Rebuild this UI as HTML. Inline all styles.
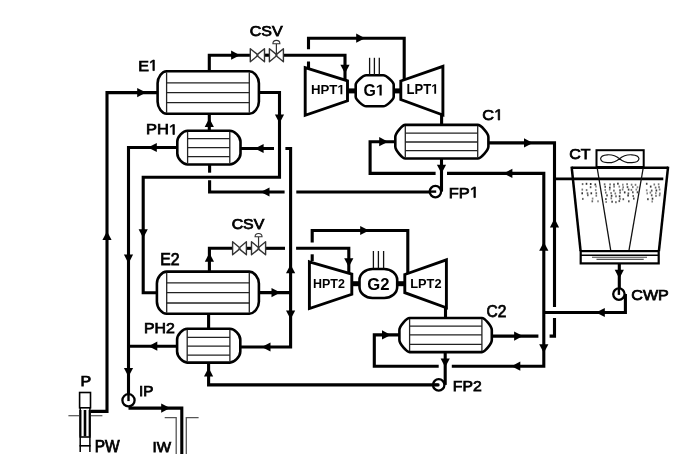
<!DOCTYPE html>
<html><head><meta charset="utf-8"><style>
html,body{margin:0;padding:0;background:#fff;overflow:hidden}
svg{display:block;will-change:transform}
text{font-family:"Liberation Sans",sans-serif;fill:#000;font-kerning:none}
</style></head><body>
<svg width="699" height="461" viewBox="0 0 699 461">
<rect width="699" height="461" fill="#fff"/>
<path d="M90.5,411.4 H107 V92.6 H157.6" fill="none" stroke="#000" stroke-width="3.1" stroke-linejoin="miter" stroke-linecap="butt"/>
<polygon points="107.0,231.2 102.4,240.0 111.6,240.0" fill="#000"/>
<polygon points="146.0,92.6 137.2,88.0 137.2,97.2" fill="#000"/>
<path d="M166.6,71.3 H249.3 C254.10,71.3 258.9,77.30 258.9,83.30 V101.80 C258.9,107.80 254.10,113.8 249.3,113.8 H166.6 C162.10,113.8 157.6,107.80 157.6,101.80 V83.30 C157.6,77.30 162.10,71.3 166.6,71.3 Z" fill="#fff" stroke="#000" stroke-width="2.6"/>
<line x1="166.6" y1="72.3" x2="166.6" y2="112.8" stroke="#222" stroke-width="1.3"/>
<line x1="249.3" y1="72.3" x2="249.3" y2="112.8" stroke="#222" stroke-width="1.3"/>
<line x1="166.6" y1="82.8" x2="249.3" y2="82.8" stroke="#222" stroke-width="1.3"/>
<line x1="166.6" y1="92.7" x2="249.3" y2="92.7" stroke="#222" stroke-width="1.3"/>
<line x1="166.6" y1="102.6" x2="249.3" y2="102.6" stroke="#222" stroke-width="1.3"/>
<path d="M209.3,71 V55.2 H250.3" fill="none" stroke="#000" stroke-width="3.1" stroke-linejoin="miter" stroke-linecap="butt"/>
<polygon points="239.9,55.2 231.1,50.6 231.1,59.8" fill="#000"/>
<path d="M264.5,55.2 H269.4" fill="none" stroke="#000" stroke-width="3.1" stroke-linejoin="miter" stroke-linecap="butt"/>
<path d="M283.4,55.2 H345 V80" fill="none" stroke="#000" stroke-width="3.1" stroke-linejoin="miter" stroke-linecap="butt"/>
<polygon points="345.0,73.5 340.4,64.7 349.6,64.7" fill="#000"/>
<polygon points="250.3,48.7 257.0,54.1 257.0,56.300000000000004 250.3,61.7" fill="#fff" stroke="#333" stroke-width="1.4" stroke-linejoin="round"/>
<polygon points="264.5,48.7 257.79999999999995,54.1 257.79999999999995,56.300000000000004 264.5,61.7" fill="#fff" stroke="#333" stroke-width="1.4" stroke-linejoin="round"/>
<polygon points="269.4,48.7 276.0,54.1 276.0,56.300000000000004 269.4,61.7" fill="#fff" stroke="#333" stroke-width="1.4" stroke-linejoin="round"/>
<polygon points="283.4,48.7 276.79999999999995,54.1 276.79999999999995,56.300000000000004 283.4,61.7" fill="#fff" stroke="#333" stroke-width="1.4" stroke-linejoin="round"/>
<line x1="276.4" y1="55.2" x2="276.4" y2="43.7" stroke="#333" stroke-width="1.2"/>
<path d="M272.9,43.7 A3.5,3.3 0 0 1 279.9,43.7 Z" fill="#fff" stroke="#333" stroke-width="1.1"/>
<path d="M308.5,49.2 V38.2 H404.2 V81" fill="none" stroke="#000" stroke-width="3.1" stroke-linejoin="miter" stroke-linecap="butt"/>
<path d="M308.5,61.5 V69" fill="none" stroke="#000" stroke-width="3.1" stroke-linejoin="miter" stroke-linecap="butt"/>
<polygon points="365.0,38.2 356.2,33.6 356.2,42.8" fill="#000"/>
<polygon points="305.2,67.6 347.5,80.8 347.5,100.8 305.2,115.3" fill="#fff" stroke="#000" stroke-width="2.9" stroke-linejoin="miter"/>
<polygon points="400.8,81 442.9,66.3 442.9,115 400.8,99.6" fill="#fff" stroke="#000" stroke-width="2.9" stroke-linejoin="miter"/>
<rect x="347" y="88.4" width="8.5" height="5" fill="#000"/>
<rect x="393.8" y="88.4" width="7.6" height="5" fill="#000"/>
<path d="M366.2,75.3 H383.2 C386.35,75.3 393.7,81.95 393.7,84.80 V96.80 C393.7,99.65 386.35,106.3 383.2,106.3 H366.2 C363.05,106.3 355.7,99.65 355.7,96.80 V84.80 C355.7,81.95 363.05,75.3 366.2,75.3 Z" fill="#fff" stroke="#000" stroke-width="2.6"/>
<line x1="369.6" y1="57.8" x2="369.6" y2="75" stroke="#111" stroke-width="1.3"/>
<line x1="374.4" y1="57.8" x2="374.4" y2="75" stroke="#111" stroke-width="1.3"/>
<line x1="379.3" y1="57.8" x2="379.3" y2="75" stroke="#111" stroke-width="1.3"/>
<path d="M441.6,114 V125" fill="none" stroke="#000" stroke-width="3.1" stroke-linejoin="miter" stroke-linecap="butt"/>
<path d="M405.3,124.9 H477.7 C480.91,124.9 488.4,133.30 488.4,136.90 V146.50 C488.4,150.10 480.91,158.5 477.7,158.5 H405.3 C402.30,158.5 395.3,150.10 395.3,146.50 V136.90 C395.3,133.30 402.30,124.9 405.3,124.9 Z" fill="#fff" stroke="#000" stroke-width="2.6"/>
<line x1="405.3" y1="125.9" x2="405.3" y2="157.5" stroke="#222" stroke-width="1.3"/>
<line x1="477.7" y1="125.9" x2="477.7" y2="157.5" stroke="#222" stroke-width="1.3"/>
<line x1="405.3" y1="133.1" x2="477.7" y2="133.1" stroke="#222" stroke-width="1.3"/>
<line x1="405.3" y1="142" x2="477.7" y2="142" stroke="#222" stroke-width="1.3"/>
<line x1="405.3" y1="150.7" x2="477.7" y2="150.7" stroke="#222" stroke-width="1.3"/>
<path d="M258.9,92.5 H279.5 V177.3 H143.2 V292.7 H156.9" fill="none" stroke="#000" stroke-width="3.1" stroke-linejoin="miter" stroke-linecap="butt"/>
<polygon points="279.5,123.3 274.9,114.5 284.1,114.5" fill="#000"/>
<polygon points="143.2,238.0 138.6,229.2 147.8,229.2" fill="#000"/>
<path d="M187.6,130.7 H229.8 C234.62,130.7 240.5,136.75 240.5,141.70 V153.50 C240.5,158.45 234.62,164.5 229.8,164.5 H187.6 C182.97,164.5 177.3,158.45 177.3,153.50 V141.70 C177.3,136.75 182.97,130.7 187.6,130.7 Z" fill="#fff" stroke="#000" stroke-width="2.6"/>
<line x1="187.6" y1="131.7" x2="187.6" y2="163.5" stroke="#222" stroke-width="1.3"/>
<line x1="229.8" y1="131.7" x2="229.8" y2="163.5" stroke="#222" stroke-width="1.3"/>
<line x1="187.6" y1="138.7" x2="229.8" y2="138.7" stroke="#222" stroke-width="1.3"/>
<line x1="187.6" y1="147.7" x2="229.8" y2="147.7" stroke="#222" stroke-width="1.3"/>
<line x1="187.6" y1="156.6" x2="229.8" y2="156.6" stroke="#222" stroke-width="1.3"/>
<path d="M209.3,113.8 V130.7" fill="none" stroke="#000" stroke-width="3.1" stroke-linejoin="miter" stroke-linecap="butt"/>
<polygon points="209.3,118.3 204.7,127.1 213.9,127.1" fill="#000"/>
<path d="M177.3,147.5 H128.5 V400" fill="none" stroke="#000" stroke-width="3.1" stroke-linejoin="miter" stroke-linecap="butt"/>
<polygon points="148.0,147.5 156.8,142.9 156.8,152.1" fill="#000"/>
<polygon points="128.5,263.4 123.9,254.6 133.1,254.6" fill="#000"/>
<polygon points="128.5,376.7 123.9,367.9 133.1,367.9" fill="#000"/>
<path d="M240.5,148.5 H274" fill="none" stroke="#000" stroke-width="3.1" stroke-linejoin="miter" stroke-linecap="butt"/>
<path d="M285.4,148.5 H290.6 V347 H240.3" fill="none" stroke="#000" stroke-width="3.1" stroke-linejoin="miter" stroke-linecap="butt"/>
<polygon points="254.8,148.5 263.6,143.9 263.6,153.1" fill="#000"/>
<polygon points="290.6,264.5 286.0,273.3 295.2,273.3" fill="#000"/>
<polygon points="290.6,319.3 286.0,310.5 295.2,310.5" fill="#000"/>
<polygon points="261.7,347.0 270.5,342.4 270.5,351.6" fill="#000"/>
<path d="M209.6,164.5 V172.7" fill="none" stroke="#000" stroke-width="3.1" stroke-linejoin="miter" stroke-linecap="butt"/>
<path d="M209.6,180.3 V192 H284.6" fill="none" stroke="#000" stroke-width="3.1" stroke-linejoin="miter" stroke-linecap="butt"/>
<path d="M296.3,192 H435.4" fill="none" stroke="#000" stroke-width="3.1" stroke-linejoin="miter" stroke-linecap="butt"/>
<polygon points="260.7,192.0 269.5,187.4 269.5,196.6" fill="#000"/>
<path d="M395.3,141.7 H370.1 V173.4 H435.6" fill="none" stroke="#000" stroke-width="3.1" stroke-linejoin="miter" stroke-linecap="butt"/>
<path d="M447,173.4 H543.8 V366.2 H451.8" fill="none" stroke="#000" stroke-width="3.1" stroke-linejoin="miter" stroke-linecap="butt"/>
<path d="M438.7,366.2 H374.3 V334.9 H399.4" fill="none" stroke="#000" stroke-width="3.1" stroke-linejoin="miter" stroke-linecap="butt"/>
<polygon points="388.0,141.7 379.2,137.1 379.2,146.3" fill="#000"/>
<polygon points="503.6,173.4 512.4,168.8 512.4,178.0" fill="#000"/>
<polygon points="543.8,242.0 539.2,250.8 548.4,250.8" fill="#000"/>
<polygon points="543.8,353.0 539.2,344.2 548.4,344.2" fill="#000"/>
<polygon points="511.5,366.2 520.3,361.6 520.3,370.8" fill="#000"/>
<polygon points="390.8,334.9 382.0,330.3 382.0,339.5" fill="#000"/>
<path d="M441.5,158.5 V191.6" fill="none" stroke="#000" stroke-width="3.1" stroke-linejoin="miter" stroke-linecap="butt"/>
<polygon points="441.5,173.5 436.9,164.7 446.1,164.7" fill="#000"/>
<circle cx="435.4" cy="191.6" r="5.7" fill="#fff" stroke="#000" stroke-width="2.3"/>
<line x1="429.7" y1="191.6" x2="436.2" y2="191.6" stroke="#000" stroke-width="2.4"/>
<path d="M488.4,142.9 H554.5 V307" fill="none" stroke="#000" stroke-width="3.1" stroke-linejoin="miter" stroke-linecap="butt"/>
<path d="M554.5,318 V336.1 H549.6" fill="none" stroke="#000" stroke-width="3.1" stroke-linejoin="miter" stroke-linecap="butt"/>
<path d="M554.5,178.8 H663.3" fill="none" stroke="#000" stroke-width="2.8" stroke-linejoin="miter" stroke-linecap="butt"/>
<polygon points="532.8,142.9 524.0,138.3 524.0,147.5" fill="#000"/>
<polygon points="554.5,218.6 549.9,227.4 559.1,227.4" fill="#000"/>
<path d="M491.8,336.1 H538.4" fill="none" stroke="#000" stroke-width="3.1" stroke-linejoin="miter" stroke-linecap="butt"/>
<polygon points="522.9,336.1 514.1,331.5 514.1,340.7" fill="#000"/>
<path d="M625.4,294 V312.5 H543.8" fill="none" stroke="#000" stroke-width="3.1" stroke-linejoin="miter" stroke-linecap="butt"/>
<polygon points="596.0,312.5 604.8,307.9 604.8,317.1" fill="#000"/>
<rect x="596.5" y="150.2" width="47.2" height="16.8" fill="#fff" stroke="#000" stroke-width="2"/>
<path d="M619.5,158.7 C612,152.5 601,154.5 600.6,158.7 C601,163 612,165 619.5,158.7 C627,152.5 638.5,154.5 639,158.7 C638.5,163 627,165 619.5,158.7 Z" fill="none" stroke="#111" stroke-width="1.2"/>
<path d="M571.6,167.8 H668.1" fill="none" stroke="#000" stroke-width="2.4" stroke-linejoin="miter" stroke-linecap="butt"/>
<path d="M571.6,166.6 L580.6,251.2" fill="none" stroke="#000" stroke-width="2.5" stroke-linejoin="miter" stroke-linecap="butt"/>
<path d="M668.1,166.6 L658.9,251.2" fill="none" stroke="#000" stroke-width="2.5" stroke-linejoin="miter" stroke-linecap="butt"/>
<path d="M597.2,168 L610.8,250.8" fill="none" stroke="#111" stroke-width="1.3" stroke-linejoin="miter" stroke-linecap="butt"/>
<path d="M643.2,168 L628.9,250.8" fill="none" stroke="#111" stroke-width="1.3" stroke-linejoin="miter" stroke-linecap="butt"/>
<rect x="581.8" y="183.1" width="1.6" height="2" fill="#666"/>
<rect x="581.5" y="188.6" width="1.6" height="2" fill="#777"/>
<rect x="581.4" y="192.3" width="1.6" height="2" fill="#333"/>
<rect x="582.0" y="197.9" width="1.6" height="2" fill="#666"/>
<rect x="585.7" y="182.8" width="1.6" height="2" fill="#333"/>
<rect x="585.8" y="189.1" width="1.6" height="2" fill="#777"/>
<rect x="586.7" y="192.3" width="1.6" height="2" fill="#666"/>
<rect x="587.0" y="194.2" width="1.6" height="2" fill="#666"/>
<rect x="589.9" y="183.0" width="1.6" height="2" fill="#333"/>
<rect x="589.8" y="186.2" width="1.6" height="2" fill="#555"/>
<rect x="590.5" y="192.3" width="1.6" height="2" fill="#333"/>
<rect x="591.8" y="197.6" width="1.6" height="2" fill="#888"/>
<rect x="591.5" y="200.3" width="1.6" height="2" fill="#666"/>
<rect x="594.5" y="183.5" width="1.6" height="2" fill="#333"/>
<rect x="595.2" y="185.5" width="1.6" height="2" fill="#888"/>
<rect x="594.9" y="189.1" width="1.6" height="2" fill="#888"/>
<rect x="595.5" y="192.2" width="1.6" height="2" fill="#666"/>
<rect x="595.5" y="194.7" width="1.6" height="2" fill="#777"/>
<rect x="597.2" y="200.3" width="1.6" height="2" fill="#888"/>
<rect x="603.8" y="183.3" width="1.6" height="2" fill="#666"/>
<rect x="604.4" y="185.8" width="1.6" height="2" fill="#555"/>
<rect x="604.4" y="188.9" width="1.6" height="2" fill="#888"/>
<rect x="605.0" y="191.6" width="1.6" height="2" fill="#666"/>
<rect x="606.2" y="194.4" width="1.6" height="2" fill="#444"/>
<rect x="605.1" y="198.1" width="1.6" height="2" fill="#444"/>
<rect x="605.4" y="201.0" width="1.6" height="2" fill="#888"/>
<rect x="609.3" y="183.4" width="1.6" height="2" fill="#666"/>
<rect x="609.0" y="186.6" width="1.6" height="2" fill="#333"/>
<rect x="608.9" y="188.5" width="1.6" height="2" fill="#888"/>
<rect x="610.3" y="192.1" width="1.6" height="2" fill="#777"/>
<rect x="610.8" y="194.8" width="1.6" height="2" fill="#333"/>
<rect x="610.5" y="197.3" width="1.6" height="2" fill="#777"/>
<rect x="611.3" y="200.7" width="1.6" height="2" fill="#444"/>
<rect x="613.2" y="183.5" width="1.6" height="2" fill="#444"/>
<rect x="613.3" y="185.6" width="1.6" height="2" fill="#777"/>
<rect x="613.1" y="189.6" width="1.6" height="2" fill="#666"/>
<rect x="614.5" y="192.5" width="1.6" height="2" fill="#777"/>
<rect x="615.2" y="195.3" width="1.6" height="2" fill="#666"/>
<rect x="615.1" y="201.2" width="1.6" height="2" fill="#666"/>
<rect x="617.1" y="182.7" width="1.6" height="2" fill="#333"/>
<rect x="618.5" y="185.6" width="1.6" height="2" fill="#888"/>
<rect x="619.2" y="189.3" width="1.6" height="2" fill="#555"/>
<rect x="619.3" y="191.7" width="1.6" height="2" fill="#666"/>
<rect x="618.8" y="195.3" width="1.6" height="2" fill="#333"/>
<rect x="619.2" y="197.8" width="1.6" height="2" fill="#777"/>
<rect x="618.5" y="200.1" width="1.6" height="2" fill="#555"/>
<rect x="622.0" y="183.7" width="1.6" height="2" fill="#888"/>
<rect x="622.4" y="186.3" width="1.6" height="2" fill="#777"/>
<rect x="621.8" y="188.5" width="1.6" height="2" fill="#777"/>
<rect x="623.9" y="191.4" width="1.6" height="2" fill="#333"/>
<rect x="622.5" y="198.2" width="1.6" height="2" fill="#555"/>
<rect x="626.3" y="183.2" width="1.6" height="2" fill="#666"/>
<rect x="626.7" y="186.1" width="1.6" height="2" fill="#555"/>
<rect x="627.8" y="188.6" width="1.6" height="2" fill="#444"/>
<rect x="627.6" y="192.4" width="1.6" height="2" fill="#555"/>
<rect x="627.3" y="194.5" width="1.6" height="2" fill="#333"/>
<rect x="628.0" y="200.3" width="1.6" height="2" fill="#555"/>
<rect x="630.8" y="183.7" width="1.6" height="2" fill="#777"/>
<rect x="632.0" y="186.1" width="1.6" height="2" fill="#777"/>
<rect x="630.6" y="188.9" width="1.6" height="2" fill="#777"/>
<rect x="632.0" y="191.3" width="1.6" height="2" fill="#555"/>
<rect x="632.4" y="195.0" width="1.6" height="2" fill="#666"/>
<rect x="633.0" y="197.6" width="1.6" height="2" fill="#444"/>
<rect x="634.7" y="183.8" width="1.6" height="2" fill="#777"/>
<rect x="636.7" y="186.3" width="1.6" height="2" fill="#888"/>
<rect x="635.5" y="188.6" width="1.6" height="2" fill="#888"/>
<rect x="636.7" y="191.3" width="1.6" height="2" fill="#444"/>
<rect x="645.9" y="182.8" width="1.6" height="2" fill="#444"/>
<rect x="645.9" y="189.3" width="1.6" height="2" fill="#888"/>
<rect x="646.4" y="192.4" width="1.6" height="2" fill="#888"/>
<rect x="647.1" y="198.2" width="1.6" height="2" fill="#444"/>
<rect x="649.9" y="185.6" width="1.6" height="2" fill="#333"/>
<rect x="650.9" y="189.6" width="1.6" height="2" fill="#555"/>
<rect x="649.6" y="191.6" width="1.6" height="2" fill="#777"/>
<rect x="650.9" y="194.3" width="1.6" height="2" fill="#555"/>
<rect x="651.7" y="197.7" width="1.6" height="2" fill="#333"/>
<rect x="651.4" y="200.5" width="1.6" height="2" fill="#888"/>
<rect x="653.5" y="183.5" width="1.6" height="2" fill="#777"/>
<rect x="654.8" y="186.6" width="1.6" height="2" fill="#666"/>
<rect x="655.6" y="189.5" width="1.6" height="2" fill="#333"/>
<rect x="655.0" y="192.2" width="1.6" height="2" fill="#888"/>
<rect x="655.2" y="194.9" width="1.6" height="2" fill="#777"/>
<rect x="657.8" y="183.3" width="1.6" height="2" fill="#777"/>
<rect x="658.2" y="186.1" width="1.6" height="2" fill="#777"/>
<rect x="658.8" y="188.5" width="1.6" height="2" fill="#777"/>
<rect x="659.1" y="192.5" width="1.6" height="2" fill="#777"/>
<rect x="658.8" y="194.3" width="1.6" height="2" fill="#777"/>
<rect x="580.7" y="251.1" width="78" height="12.3" fill="#fff" stroke="#000" stroke-width="2.2"/>
<path d="M580.7,255.3 H658.7" fill="none" stroke="#000" stroke-width="1.4" stroke-linejoin="miter" stroke-linecap="butt"/>
<path d="M592,257.3 H647" fill="none" stroke="#444" stroke-width="1.1" stroke-linejoin="miter" stroke-linecap="butt"/>
<path d="M596.5,259.4 H643.7" fill="none" stroke="#555" stroke-width="1.1" stroke-linejoin="miter" stroke-linecap="butt"/>
<path d="M619.3,263.8 V294" fill="none" stroke="#000" stroke-width="3.1" stroke-linejoin="miter" stroke-linecap="butt"/>
<polygon points="619.3,278.5 614.7,269.7 623.9,269.7" fill="#000"/>
<circle cx="618.9" cy="294.1" r="5.7" fill="#fff" stroke="#000" stroke-width="2.3"/>
<line x1="618.9" y1="288.40000000000003" x2="618.9" y2="294.90000000000003" stroke="#000" stroke-width="2.4"/>
<path d="M166.7,271.6 H249.3 C254.10,271.6 258.9,277.60 258.9,283.60 V301.70 C258.9,307.70 254.10,313.7 249.3,313.7 H166.7 C161.80,313.7 156.9,307.70 156.9,301.70 V283.60 C156.9,277.60 161.80,271.6 166.7,271.6 Z" fill="#fff" stroke="#000" stroke-width="2.6"/>
<line x1="166.7" y1="272.6" x2="166.7" y2="312.7" stroke="#222" stroke-width="1.3"/>
<line x1="249.3" y1="272.6" x2="249.3" y2="312.7" stroke="#222" stroke-width="1.3"/>
<line x1="166.7" y1="282.9" x2="249.3" y2="282.9" stroke="#222" stroke-width="1.3"/>
<line x1="166.7" y1="292.7" x2="249.3" y2="292.7" stroke="#222" stroke-width="1.3"/>
<line x1="166.7" y1="303" x2="249.3" y2="303" stroke="#222" stroke-width="1.3"/>
<path d="M209.4,271.6 V248.3 H232.6" fill="none" stroke="#000" stroke-width="3.1" stroke-linejoin="miter" stroke-linecap="butt"/>
<polygon points="209.4,252.9 204.8,261.7 214.0,261.7" fill="#000"/>
<path d="M246.4,248.3 H251.5" fill="none" stroke="#000" stroke-width="3.1" stroke-linejoin="miter" stroke-linecap="butt"/>
<path d="M265.6,248.3 H285" fill="none" stroke="#000" stroke-width="3.1" stroke-linejoin="miter" stroke-linecap="butt"/>
<path d="M296.1,248.3 H348.8 V274" fill="none" stroke="#000" stroke-width="3.1" stroke-linejoin="miter" stroke-linecap="butt"/>
<polygon points="348.8,267.0 344.2,258.2 353.4,258.2" fill="#000"/>
<polygon points="232.6,241.8 239.1,247.20000000000002 239.1,249.4 232.6,254.8" fill="#fff" stroke="#333" stroke-width="1.4" stroke-linejoin="round"/>
<polygon points="246.4,241.8 239.9,247.20000000000002 239.9,249.4 246.4,254.8" fill="#fff" stroke="#333" stroke-width="1.4" stroke-linejoin="round"/>
<polygon points="251.5,241.8 258.15000000000003,247.20000000000002 258.15000000000003,249.4 251.5,254.8" fill="#fff" stroke="#333" stroke-width="1.4" stroke-linejoin="round"/>
<polygon points="265.6,241.8 258.95,247.20000000000002 258.95,249.4 265.6,254.8" fill="#fff" stroke="#333" stroke-width="1.4" stroke-linejoin="round"/>
<line x1="258.55" y1="248.3" x2="258.55" y2="236.8" stroke="#333" stroke-width="1.2"/>
<path d="M255.05,236.8 A3.5,3.3 0 0 1 262.05,236.8 Z" fill="#fff" stroke="#333" stroke-width="1.1"/>
<path d="M312.2,242.6 V230.5 H407.8 V275" fill="none" stroke="#000" stroke-width="3.1" stroke-linejoin="miter" stroke-linecap="butt"/>
<path d="M312.2,254.3 V261" fill="none" stroke="#000" stroke-width="3.1" stroke-linejoin="miter" stroke-linecap="butt"/>
<polygon points="369.0,230.5 360.2,225.9 360.2,235.1" fill="#000"/>
<polygon points="309.4,261.8 351.8,274.2 351.8,294.3 309.4,308.5" fill="#fff" stroke="#000" stroke-width="2.9" stroke-linejoin="miter"/>
<polygon points="404.8,274.5 446.4,259.8 446.4,307.8 404.8,292.7" fill="#fff" stroke="#000" stroke-width="2.9" stroke-linejoin="miter"/>
<rect x="351" y="281.2" width="8.5" height="5" fill="#000"/>
<rect x="397" y="281.2" width="8.3" height="5" fill="#000"/>
<path d="M372.5,269 H384.2 C391.35,269 397.2,273.95 397.2,280.00 V287.00 C397.2,293.05 391.35,298 384.2,298 H372.5 C365.35,298 359.5,293.05 359.5,287.00 V280.00 C359.5,273.95 365.35,269 372.5,269 Z" fill="#fff" stroke="#000" stroke-width="2.6"/>
<line x1="373.4" y1="251" x2="373.4" y2="268.5" stroke="#111" stroke-width="1.3"/>
<line x1="378.4" y1="251" x2="378.4" y2="268.5" stroke="#111" stroke-width="1.3"/>
<line x1="383.6" y1="251" x2="383.6" y2="268.5" stroke="#111" stroke-width="1.3"/>
<path d="M258.9,292.6 H290.6" fill="none" stroke="#000" stroke-width="3.1" stroke-linejoin="miter" stroke-linecap="butt"/>
<polygon points="280.3,292.6 271.5,288.0 271.5,297.2" fill="#000"/>
<path d="M445.5,307 V318.5" fill="none" stroke="#000" stroke-width="3.1" stroke-linejoin="miter" stroke-linecap="butt"/>
<path d="M409.6,318 H481.9 C484.87,318 491.8,326.40 491.8,330.00 V340.10 C491.8,343.70 484.87,352.1 481.9,352.1 H409.6 C406.54,352.1 399.4,343.70 399.4,340.10 V330.00 C399.4,326.40 406.54,318 409.6,318 Z" fill="#fff" stroke="#000" stroke-width="2.6"/>
<line x1="409.6" y1="319" x2="409.6" y2="351.1" stroke="#222" stroke-width="1.3"/>
<line x1="481.9" y1="319" x2="481.9" y2="351.1" stroke="#222" stroke-width="1.3"/>
<line x1="409.6" y1="326.1" x2="481.9" y2="326.1" stroke="#222" stroke-width="1.3"/>
<line x1="409.6" y1="334.9" x2="481.9" y2="334.9" stroke="#222" stroke-width="1.3"/>
<line x1="409.6" y1="344.3" x2="481.9" y2="344.3" stroke="#222" stroke-width="1.3"/>
<path d="M445.2,352.1 V384.9" fill="none" stroke="#000" stroke-width="3.1" stroke-linejoin="miter" stroke-linecap="butt"/>
<polygon points="445.2,367.2 440.6,358.4 449.8,358.4" fill="#000"/>
<circle cx="438.7" cy="384.9" r="5.7" fill="#fff" stroke="#000" stroke-width="2.3"/>
<line x1="433.0" y1="384.9" x2="439.5" y2="384.9" stroke="#000" stroke-width="2.4"/>
<path d="M208.6,362.6 V384.9 H438.7" fill="none" stroke="#000" stroke-width="3.1" stroke-linejoin="miter" stroke-linecap="butt"/>
<polygon points="208.6,367.7 204.0,376.5 213.2,376.5" fill="#000"/>
<path d="M187.2,328.8 H229.9 C234.58,328.8 240.3,334.85 240.3,339.80 V351.60 C240.3,356.55 234.58,362.6 229.9,362.6 H187.2 C182.66,362.6 177.1,356.55 177.1,351.60 V339.80 C177.1,334.85 182.66,328.8 187.2,328.8 Z" fill="#fff" stroke="#000" stroke-width="2.6"/>
<line x1="187.2" y1="329.8" x2="187.2" y2="361.6" stroke="#222" stroke-width="1.3"/>
<line x1="229.9" y1="329.8" x2="229.9" y2="361.6" stroke="#222" stroke-width="1.3"/>
<line x1="187.2" y1="337.4" x2="229.9" y2="337.4" stroke="#222" stroke-width="1.3"/>
<line x1="187.2" y1="346.2" x2="229.9" y2="346.2" stroke="#222" stroke-width="1.3"/>
<line x1="187.2" y1="355.1" x2="229.9" y2="355.1" stroke="#222" stroke-width="1.3"/>
<path d="M208.6,313.7 V328.8" fill="none" stroke="#000" stroke-width="3.1" stroke-linejoin="miter" stroke-linecap="butt"/>
<path d="M177.1,346.2 H128.5" fill="none" stroke="#000" stroke-width="3.1" stroke-linejoin="miter" stroke-linecap="butt"/>
<polygon points="148.5,346.2 157.3,341.6 157.3,350.8" fill="#000"/>
<circle cx="128.5" cy="400.3" r="6.1" fill="#fff" stroke="#000" stroke-width="2.3"/>
<line x1="128.5" y1="394.2" x2="128.5" y2="401.1" stroke="#000" stroke-width="2.4"/>
<path d="M128.5,408.1 H181.8 V454" fill="none" stroke="#000" stroke-width="3.1" stroke-linejoin="miter" stroke-linecap="butt"/>
<polygon points="170.0,408.1 161.2,403.5 161.2,412.7" fill="#000"/>
<path d="M164.7,417.7 H176.2 V454" fill="none" stroke="#555" stroke-width="1.3" stroke-linejoin="miter" stroke-linecap="butt"/>
<path d="M198.6,417.7 H186.3 V454" fill="none" stroke="#555" stroke-width="1.3" stroke-linejoin="miter" stroke-linecap="butt"/>
<rect x="79.6" y="392.5" width="10.9" height="15.3" fill="#fff" stroke="#000" stroke-width="1.6"/>
<path d="M80.2,407.8 V452" fill="none" stroke="#000" stroke-width="1.5" stroke-linejoin="miter" stroke-linecap="butt"/>
<path d="M89.9,407.8 V452" fill="none" stroke="#000" stroke-width="1.5" stroke-linejoin="miter" stroke-linecap="butt"/>
<path d="M80.4,410 V436.5" fill="none" stroke="#000" stroke-width="2.1" stroke-linejoin="miter" stroke-linecap="butt"/>
<path d="M89.7,410 V436.5" fill="none" stroke="#000" stroke-width="2.1" stroke-linejoin="miter" stroke-linecap="butt"/>
<path d="M85,410 V436.3" fill="none" stroke="#000" stroke-width="2.6" stroke-linejoin="miter" stroke-linecap="butt"/>
<path d="M68.4,415.7 H79 M91,415.7 H102.4" fill="none" stroke="#333" stroke-width="1.1" stroke-linejoin="miter" stroke-linecap="butt"/>
<path d="M79.5,437 H90.6" fill="none" stroke="#000" stroke-width="1.6" stroke-linejoin="miter" stroke-linecap="butt"/>
<path d="M79.5,445.8 H90.6" fill="none" stroke="#000" stroke-width="1.6" stroke-linejoin="miter" stroke-linecap="butt"/>
<text x="249.68" y="35.74" font-size="14.48" stroke="#000" stroke-width="0.75" textLength="32.89" lengthAdjust="spacingAndGlyphs">CSV</text>
<text x="138.16" y="70.57" font-size="15.23" stroke="#000" stroke-width="0.75" textLength="19.66" lengthAdjust="spacingAndGlyphs">E&#8199;</text>
<polygon points="152.92,70.57 152.92,61.37 150.42,63.06 150.42,61.79 153.03,60.09 154.34,60.09 154.34,70.57" fill="#000" stroke="#000" stroke-width="0.75"/>
<text x="145.92" y="134.49" font-size="14.46" stroke="#000" stroke-width="0.75" textLength="32.03" lengthAdjust="spacingAndGlyphs">PH&#8199;</text>
<polygon points="172.94,134.49 172.94,125.76 170.38,127.36 170.38,126.16 173.06,124.55 174.39,124.55 174.39,134.49" fill="#000" stroke="#000" stroke-width="0.75"/>
<text x="310.95" y="94.33" font-size="13.63" font-weight="bold" textLength="33.80" lengthAdjust="spacingAndGlyphs">HPT&#8199;</text>
<polygon points="340.49,94.33 340.49,86.55 338.30,87.95 338.30,86.48 340.58,84.96 342.30,84.96 342.30,94.33" fill="#000"/>
<text x="363.41" y="95.52" font-size="15.81" font-weight="bold" textLength="21.24" lengthAdjust="spacingAndGlyphs">G&#8199;</text>
<polygon points="379.51,95.52 379.51,86.49 376.88,88.12 376.88,86.41 379.63,84.64 381.69,84.64 381.69,95.52" fill="#000"/>
<text x="406.62" y="93.64" font-size="13.71" font-weight="bold" textLength="31.90" lengthAdjust="spacingAndGlyphs">LPT&#8199;</text>
<polygon points="434.31,93.64 434.31,85.81 432.16,87.22 432.16,85.74 434.41,84.21 436.10,84.21 436.10,93.64" fill="#000"/>
<text x="482.31" y="120.03" font-size="15.35" stroke="#000" stroke-width="0.75" textLength="20.86" lengthAdjust="spacingAndGlyphs">C&#8199;</text>
<polygon points="498.20,120.03 498.20,110.76 495.67,112.46 495.67,111.18 498.32,109.47 499.64,109.47 499.64,120.03" fill="#000" stroke="#000" stroke-width="0.75"/>
<text x="569.34" y="158.55" font-size="14.76" stroke="#000" stroke-width="0.75" textLength="21.29" lengthAdjust="spacingAndGlyphs">CT</text>
<text x="448.79" y="197.55" font-size="15.36" stroke="#000" stroke-width="0.75" textLength="30.15" lengthAdjust="spacingAndGlyphs">FP&#8199;</text>
<polygon points="473.93,197.55 473.93,188.27 471.38,189.97 471.38,188.70 474.05,186.98 475.39,186.98 475.39,197.55" fill="#000" stroke="#000" stroke-width="0.75"/>
<text x="231.67" y="228.80" font-size="13.86" stroke="#000" stroke-width="0.75" textLength="32.61" lengthAdjust="spacingAndGlyphs">CSV</text>
<text x="160.23" y="264.80" font-size="16.00" stroke="#000" stroke-width="0.75" textLength="19.32" lengthAdjust="spacingAndGlyphs">E2</text>
<text x="143.97" y="332.55" font-size="14.76" stroke="#000" stroke-width="0.75" textLength="30.87" lengthAdjust="spacingAndGlyphs">PH2</text>
<text x="313.00" y="287.63" font-size="11.92" font-weight="bold" textLength="31.88" lengthAdjust="spacingAndGlyphs">HPT2</text>
<text x="367.37" y="289.62" font-size="15.57" font-weight="bold" textLength="22.24" lengthAdjust="spacingAndGlyphs">G2</text>
<text x="410.26" y="288.18" font-size="12.47" font-weight="bold" textLength="31.26" lengthAdjust="spacingAndGlyphs">LPT2</text>
<text x="486.61" y="317.21" font-size="16.85" stroke="#000" stroke-width="0.75" textLength="19.87" lengthAdjust="spacingAndGlyphs">C2</text>
<text x="631.31" y="299.75" font-size="14.66" stroke="#000" stroke-width="0.75" textLength="37.56" lengthAdjust="spacingAndGlyphs">CWP</text>
<text x="452.88" y="391.25" font-size="14.98" stroke="#000" stroke-width="0.75" textLength="28.94" lengthAdjust="spacingAndGlyphs">FP2</text>
<text x="139.00" y="395.74" font-size="14.48" stroke="#000" stroke-width="0.75" textLength="14.39" lengthAdjust="spacingAndGlyphs">IP</text>
<text x="80.55" y="386.41" font-size="14.48" stroke="#000" stroke-width="0.75" textLength="10.68" lengthAdjust="spacingAndGlyphs">P</text>
<text x="94.79" y="452.36" font-size="15.78" stroke="#000" stroke-width="0.75" textLength="24.96" lengthAdjust="spacingAndGlyphs">PW</text>
<text x="152.64" y="452.44" font-size="14.66" stroke="#000" stroke-width="0.75" textLength="18.51" lengthAdjust="spacingAndGlyphs">IW</text>
</svg>
</body></html>
